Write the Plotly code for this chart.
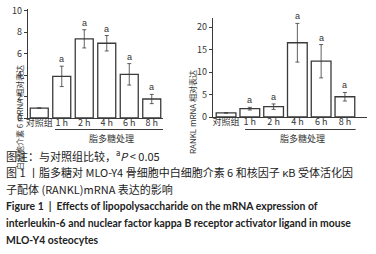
import plotly.graph_objects as go

categories = ["对照组", "1 h", "2 h", "4 h", "6 h", "8 h"]
il6_values = [0.93, 3.88, 7.38, 6.97, 4.07, 1.77]
il6_errors = [0.0, 0.95, 0.85, 0.72, 1.0, 0.43]
rankl_values = [0.9, 1.85, 2.3, 16.5, 12.4, 4.5]
rankl_errors = [0.0, 0.3, 0.6, 4.3, 3.7, 0.95]
sig_marks = ["", "a", "a", "a", "a", "a"]
group_label = "脂多糖处理"
il6_title = "白细胞介素 6 mRNA 相对表达"
rankl_title = "RANKL mRNA 相对表达"

W, H = 376, 254
def px(x):
    return x / W
def py(y):
    return 1 - y / H

TXT = "#333333"
EDGE = "#3a3a3a"
CJK = "Noto Sans CJK SC"

fig = go.Figure()
xs = list(range(len(categories)))

fig.add_trace(go.Bar(
    x=xs, y=il6_values, width=0.8, xaxis="x", yaxis="y",
    marker=dict(color="white", line=dict(color=EDGE, width=1.3)),
    error_y=dict(type="data", array=il6_errors, visible=True, color=EDGE, thickness=0.8, width=2),
    showlegend=False))
fig.add_trace(go.Bar(
    x=xs, y=rankl_values, width=0.83, xaxis="x2", yaxis="y2",
    marker=dict(color="white", line=dict(color=EDGE, width=1.3)),
    error_y=dict(type="data", array=rankl_errors, visible=True, color=EDGE, thickness=0.8, width=2),
    showlegend=False))

axis_common = dict(showline=True, linecolor=EDGE, linewidth=1.2, showgrid=False, zeroline=False,
                   tickfont=dict(family=CJK, size=9, color=TXT), ticks="outside", ticklen=3,
                   tickcolor=EDGE, tickwidth=1, automargin=False)
xaxis_common = {**axis_common, "ticks": "", "ticklen": 0, "ticklabelstandoff": -4}

fig.update_layout(
    width=W, height=H, margin=dict(l=0, r=0, t=0, b=0, autoexpand=False),
    paper_bgcolor="white", plot_bgcolor="white", bargap=0.2,
    xaxis=dict(domain=[px(28), px(163)], range=[-0.5, 5.5], anchor="y",
               tickvals=xs, ticktext=categories, **xaxis_common),
    yaxis=dict(domain=[py(118), py(8.6)], range=[0, 10.2], anchor="x",
               tickvals=[0, 2, 4, 6, 8, 10], **axis_common),
    xaxis2=dict(domain=[px(213), px(367)], range=[-0.55, 5.93], anchor="y2",
                tickvals=xs, ticktext=categories, **xaxis_common),
    yaxis2=dict(domain=[py(117), py(18)], range=[0, 22], anchor="x2",
                tickvals=[0, 5, 10, 15, 20], **axis_common),
)

ann = []
for i, (v, e, s) in enumerate(zip(il6_values, il6_errors, sig_marks)):
    if s:
        ann.append(dict(x=i, y=v + e, xref="x", yref="y", text=s, showarrow=False,
                        yanchor="bottom", yshift=0, font=dict(family="Liberation Sans", size=9, color=TXT)))
for i, (v, e, s) in enumerate(zip(rankl_values, rankl_errors, sig_marks)):
    if s:
        ann.append(dict(x=i, y=v + e, xref="x2", yref="y2", text=s, showarrow=False,
                        yanchor="bottom", yshift=0, font=dict(family="Liberation Sans", size=9, color=TXT)))

# y titles
ann.append(dict(x=px(12), y=py(63), xref="paper", yref="paper", text=il6_title, textangle=-90,
                showarrow=False, font=dict(family=CJK, size=8, color=TXT)))
ann.append(dict(x=px(193), y=py(68), xref="paper", yref="paper", text=rankl_title, textangle=-90,
                showarrow=False, font=dict(family=CJK, size=8, color=TXT)))
# group labels
ann.append(dict(x=3.2, y=py(138), xref="x", yref="paper", text=group_label, showarrow=False,
                font=dict(family=CJK, size=9, color=TXT)))
ann.append(dict(x=3.2, y=py(138), xref="x2", yref="paper", text=group_label, showarrow=False,
                font=dict(family=CJK, size=9, color=TXT)))

# caption
cap = [
    (155, "图注：与对照组比较，<sup>a</sup><i>P</i> &lt; 0.05", CJK, 11),
    (172, "图 1 丨脂多糖对 MLO-Y4 骨细胞中白细胞介素 6 和核因子 κB 受体活化因", CJK, 11),
    (189, "子配体 (RANKL)mRNA 表达的影响", CJK, 11),
    (206, "<b>Figure 1  |  Effects of lipopolysaccharide on the mRNA expression of</b>", "Lato", 10.4),
    (223, "<b>interleukin-6 and nuclear factor kappa B receptor activator ligand in mouse</b>", "Lato", 10.4),
    (240, "<b>MLO-Y4 osteocytes</b>", "Lato", 10.4),
]
for y, t, f, s in cap:
    ann.append(dict(x=px(4), y=py(y), xref="paper", yref="paper", text=t, showarrow=False,
                    xanchor="left", yanchor="middle", font=dict(family=f, size=s, color="#222222")))

fig.update_layout(annotations=ann)

# underline under treatment groups
fig.add_shape(type="line", xref="x", yref="paper", x0=0.7, x1=5.5, y0=py(129.5), y1=py(129.5),
              line=dict(color=EDGE, width=1.2))
fig.add_shape(type="line", xref="x2", yref="paper", x0=0.8, x1=5.45, y0=py(129.5), y1=py(129.5),
              line=dict(color=EDGE, width=1.2))

fig.write_html("out.html", config={"displayModeBar": False},
               post_script="document.body.style.margin='0';document.body.style.overflow='hidden';")
